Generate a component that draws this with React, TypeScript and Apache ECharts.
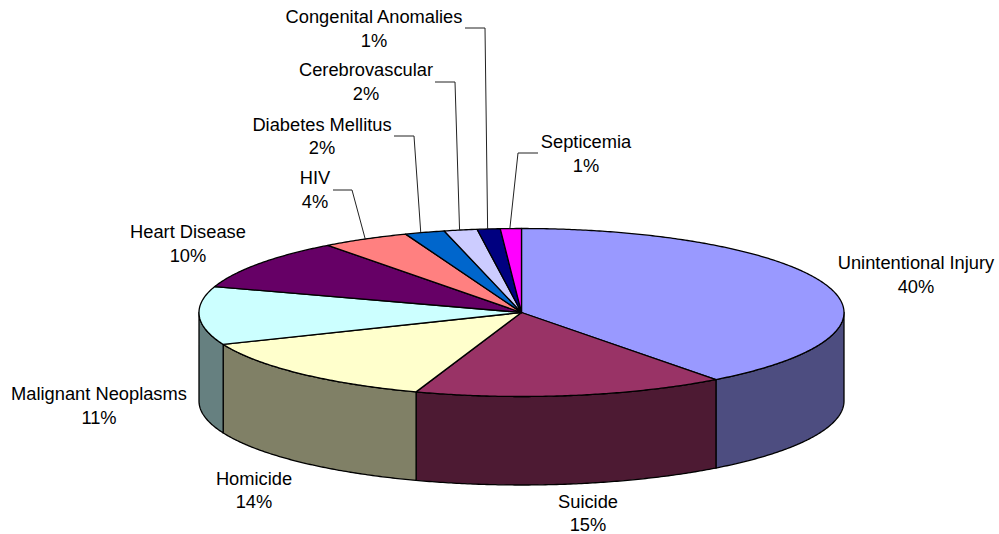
import React, { useEffect, useRef } from "react";
import * as echarts from "echarts";

const categories = [
  "Unintentional Injury", "Suicide", "Homicide", "Malignant Neoplasms", "Heart Disease",
  "HIV", "Diabetes Mellitus", "Cerebrovascular", "Congenital Anomalies", "Septicemia",
];
const shares = [39.7, 15.6, 13.5, 11.2, 9.75, 4.4, 2.0, 1.65, 1.15, 1.05];
const percentLabels = ["40%", "15%", "14%", "11%", "10%", "4%", "2%", "2%", "1%", "1%"];
const topColors = [
  "#9999FF", "#993366", "#FFFFCC", "#CCFFFF", "#660066",
  "#FF8080", "#0066CC", "#CCCCFF", "#000080", "#FF00FF",
];
const sideColors = [
  "#4D4D80", "#4D1A33", "#808066", "#668080", "#330033",
  "#804040", "#003366", "#666680", "#000040", "#800080",
];

// Layout of the tilted pie
const CX = 521.5, CY = 312.5, RX = 322.5, RY = 84, DEPTH = 88.5;
// Label centres (x, y of the two-line block) and leader-line start / elbow
const labelPos: number[][] = [
  [916, 274.5], [588, 513], [254, 490], [99, 405.5], [188, 243.5],
  [315, 189.5], [322, 136], [366, 81.5], [374, 28.5], [586, 153.5],
];
const leaders: (number[][] | null)[] = [
  null, null, null, null, null,
  [[333, 190], [352, 190]],
  [[394, 136], [414, 136]],
  [[435, 82], [455, 82]],
  [[465, 28], [485, 28]],
  [[538, 153], [518, 153]],
];
// Small horizontal nudge of each leader's end on the pie rim
const leaderNudge = [0, 0, 0, 0, 0, 0, -4, -1, -1, -1];

const total = shares.reduce((a, b) => a + b, 0);
const bounds: number[] = [0];
shares.forEach((s, i) => bounds.push(bounds[i] + (s / total) * 360));

const pt = (deg: number, dy = 0): number[] => {
  const r = (deg * Math.PI) / 180;
  return [CX + RX * Math.sin(r), CY - RY * Math.cos(r) + dy];
};
const arc = (a: number, b: number, dy = 0): number[][] => {
  const n = Math.max(2, Math.ceil(Math.abs(b - a) * 2));
  const out: number[][] = [];
  for (let i = 0; i <= n; i++) out.push(pt(a + ((b - a) * i) / n, dy));
  return out;
};
const outline = { stroke: "#000", lineWidth: 1.3, lineJoin: "round" };

const renderSide = (params: any) => {
  const i = params.dataIndex;
  const a = Math.max(bounds[i], 90);
  const b = Math.min(bounds[i + 1], 270);
  if (b <= a) return { type: "group", children: [] };
  return {
    type: "polygon",
    shape: { points: [...arc(a, b), ...arc(b, a, DEPTH)] },
    style: { fill: sideColors[i], ...outline },
  };
};
const renderTop = (params: any) => {
  const i = params.dataIndex;
  return {
    type: "polygon",
    shape: { points: [[CX, CY], ...arc(bounds[i], bounds[i + 1])] },
    style: { fill: topColors[i], ...outline },
  };
};
const renderLabel = (params: any) => {
  const i = params.dataIndex;
  const [x, y] = labelPos[i];
  const children: any[] = [];
  const lead = leaders[i];
  if (lead) {
    const mid = pt((bounds[i] + bounds[i + 1]) / 2);
    children.push({
      type: "polyline",
      shape: { points: [...lead, [mid[0] + leaderNudge[i], mid[1]]] },
      style: { stroke: "#222", lineWidth: 1, fill: "none" },
    });
  }
  children.push({
    type: "text",
    style: {
      text: `${categories[i]}\n${percentLabels[i]}`,
      x, y,
      align: "center",
      verticalAlign: "middle",
      lineHeight: 23.5,
      fill: "#000",
      font: '18.3px "Liberation Sans", Arial, sans-serif',
    },
  });
  return { type: "group", children };
};

export default function App() {
  const ref = useRef<HTMLDivElement>(null);
  useEffect(() => {
    document.body.style.margin = "0";
    const chart = echarts.init(ref.current!, undefined, { renderer: "svg" });
    const data = shares.map((s) => [s]);
    const common = { type: "custom", coordinateSystem: "none", silent: true, data };
    chart.setOption({
      animation: false,
      backgroundColor: "#fff",
      series: [
        { ...common, z: 1, renderItem: renderSide },
        { ...common, z: 2, renderItem: renderTop },
        { ...common, z: 3, renderItem: renderLabel },
      ],
    });
    return () => chart.dispose();
  }, []);
  return <div ref={ref} style={{ width: 999, height: 534 }} />;
}
